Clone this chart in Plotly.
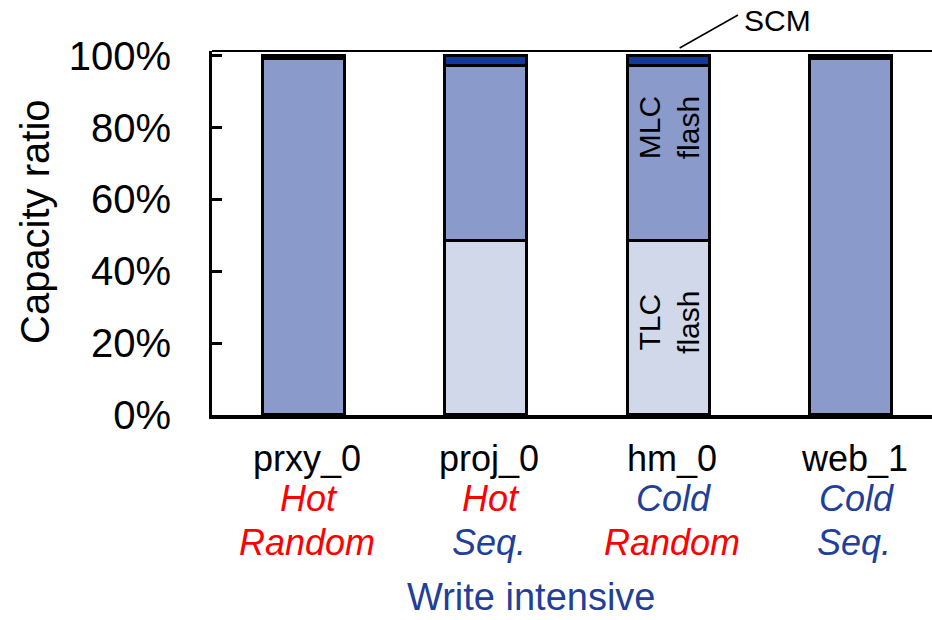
import plotly.graph_objects as go

categories = ["prxy_0", "proj_0", "hm_0", "web_1"]
line2 = ["Hot", "Hot", "Cold", "Cold"]
line3 = ["Random", "Seq.", "Random", "Seq."]
tlc = [None, 48.5, 48.5, None]
mlc = [99, 48.5, 48.5, 99]
scm = [1, 3, 3, 1]
ytick_vals = [0, 20, 40, 60, 80, 100]
ytick_text = ["0%", "20%", "40%", "60%", "80%", "100%"]

RED = "#FF0000"
BLUE = "#1F3F99"
FONT = "Arial, Liberation Sans, sans-serif"

x = list(range(len(categories)))
fig = go.Figure()
for name, vals, color in [("TLC flash", tlc, "#D0D8EA"),
                          ("MLC flash", mlc, "#8A9BCB"),
                          ("SCM", scm, "#12389A")]:
    fig.add_trace(go.Bar(x=x, y=vals, name=name, width=0.45,
                         marker=dict(color=color, line=dict(color="black", width=3)),
                         showlegend=False, hoverinfo="skip"))

def py(p):
    return (415 - p) / 364.0

ann = []
for i, c in enumerate(categories):
    ann.append(dict(x=i, y=py(458), xref="x", yref="paper", text=c, showarrow=False, xshift=3,
                    font=dict(size=36, color="black", family=FONT), yanchor="middle"))
    ann.append(dict(x=i, y=py(498), xref="x", yref="paper", text="<i>%s</i>" % line2[i],
                    showarrow=False, yanchor="middle", xshift=5,
                    font=dict(size=36, color=RED if line2[i] == "Hot" else BLUE, family=FONT)))
    ann.append(dict(x=i, y=py(542), xref="x", yref="paper", text="<i>%s</i>" % line3[i],
                    showarrow=False, yanchor="middle", xshift=3,
                    font=dict(size=36, color=RED if line3[i] == "Random" else BLUE, family=FONT)))
ann.append(dict(x=1.25, y=py(597), xref="x", yref="paper", text="Write intensive",
                showarrow=False, yanchor="middle", font=dict(size=38, color=BLUE, family=FONT)))
ann.append(dict(x=(35 - 212) / 720.0, y=py(222), xref="paper", yref="paper", text="Capacity ratio",
                showarrow=False, textangle=-90, xanchor="center", yanchor="middle",
                font=dict(size=40, color="black", family=FONT)))
ann.append(dict(x=2, y=(415 - 127) / 3.6, xref="x", yref="y", text="MLC<br>flash", showarrow=False,
                textangle=-90, font=dict(size=30, color="black", family=FONT)))
ann.append(dict(x=2, y=(415 - 322) / 3.6, xref="x", yref="y", text="TLC<br>flash", showarrow=False,
                textangle=-90, font=dict(size=30, color="black", family=FONT)))
ann.append(dict(x=2.40, y=py(20), xref="x", yref="paper", text="SCM", showarrow=False,
                xanchor="left", yanchor="middle", font=dict(size=30, color="black", family=FONT)))

fig.update_layout(
    width=932, height=620,
    margin=dict(l=212, r=0, t=51, b=205),
    paper_bgcolor="white", plot_bgcolor="white",
    barmode="stack", bargap=0,
    annotations=ann,
    shapes=[
        dict(type="line", xref="paper", yref="paper", x0=0, x1=1, y0=1, y1=1,
             line=dict(color="black", width=2)),
        dict(type="line", xref="x", yref="paper", x0=2.06, x1=2.38, y0=py(48), y1=py(15),
             line=dict(color="black", width=1.5)),
    ],
    xaxis=dict(range=[-0.505, 3.444], showline=True, linewidth=4, linecolor="black",
               showticklabels=False, ticks="", showgrid=False, zeroline=False),
    yaxis=dict(range=[0, 101.3], tickvals=ytick_vals, ticktext=ytick_text,
               showline=True, linewidth=3, linecolor="black", ticks="inside",
               ticklen=10, tickwidth=3, tickcolor="black", showgrid=False, zeroline=False,
               ticklabelstandoff=30, tickfont=dict(size=40, color="black", family=FONT)),
    font=dict(family=FONT),
)
fig.write_html("out.html", config={"displayModeBar": False},
               post_script="document.body.style.margin='0';document.body.style.overflow='hidden';")
